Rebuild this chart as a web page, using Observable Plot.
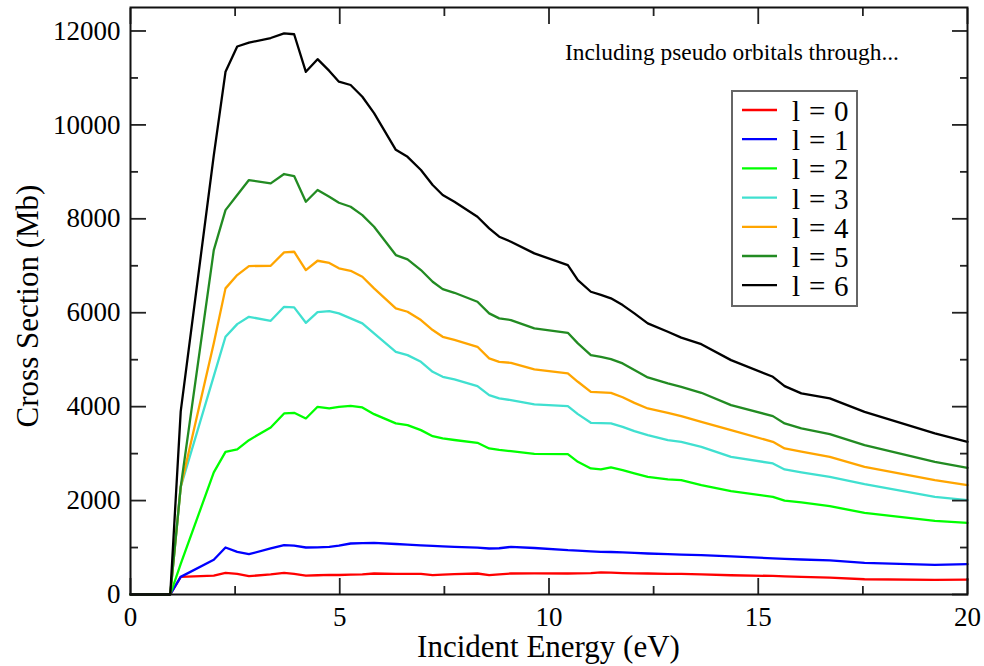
<!DOCTYPE html>
<html><head><meta charset="utf-8">
<script src="https://cdn.jsdelivr.net/npm/d3@7"></script>
<script src="https://cdn.jsdelivr.net/npm/@observablehq/plot@0.6"></script>
<style>body{margin:0;background:#fff;} #chart svg{display:block;}</style>
</head><body><div id="chart"></div>
<script>
// Incident energy (eV)
const energy = [0, 0.95, 1.2, 1.99, 2.27, 2.55, 2.83, 3.35, 3.67, 3.91, 4.19, 4.47, 4.75, 4.98, 5.26, 5.54, 5.82, 6.34, 6.62, 6.94, 7.22, 7.46, 7.74, 8.29, 8.57, 8.81, 9.09, 9.65, 10.45, 10.69, 11.0, 11.24, 11.48, 11.76, 12.04, 12.36, 12.84, 13.16, 13.64, 14.35, 15.35, 15.63, 16.03, 16.71, 17.54, 19.22, 20.0];
// Cross sections (Mb) including pseudo orbitals through l
const l0 = [0,0,375,404,460,440,390,430,461,440,404,410,420,415,425,430,447,440,440,440,411,425,435,447,411,430,447,450,447,450,455,470,465,455,450,447,440,440,430,410,395,385,375,360,325,311,316];
const l1 = [0,0,375,740,1001,908,858,980,1050,1040,1001,1005,1014,1040,1086,1095,1099,1075,1060,1045,1035,1025,1015,1000,980,985,1014,990,944,935,920,908,905,895,885,873,860,850,837,810,770,760,745,725,675,630,645];
const l2 = [0,0,650,2600,3038,3089,3287,3557,3856,3869,3749,3997,3962,3997,4018,3983,3841,3643,3607,3500,3370,3323,3290,3230,3110,3080,3053,2995,2989,2825,2684,2663,2706,2650,2580,2505,2450,2435,2328,2200,2080,2000,1960,1881,1739,1568,1525];
const l3 = [0,0,2290,4650,5488,5758,5914,5829,6127,6114,5786,6014,6035,5986,5880,5773,5560,5168,5098,4955,4742,4636,4580,4438,4246,4175,4139,4048,4011,3841,3656,3650,3643,3571,3480,3394,3287,3251,3145,2931,2791,2663,2600,2505,2350,2080,2009];
const l4 = [0,0,2290,5350,6519,6802,6994,7000,7286,7299,6909,7107,7060,6945,6894,6766,6519,6093,6021,5844,5631,5488,5420,5275,5028,4955,4934,4793,4708,4530,4316,4305,4295,4200,4080,3962,3869,3798,3677,3500,3251,3110,3040,2931,2718,2435,2328];
const l5 = [0,0,2290,7333,8186,8506,8826,8755,8954,8911,8364,8613,8470,8343,8257,8080,7831,7228,7137,6909,6660,6504,6425,6234,5986,5880,5844,5667,5573,5347,5098,5060,5013,4921,4780,4623,4495,4423,4295,4033,3798,3643,3536,3415,3181,2825,2697];
const l6 = [0,0,3900,9350,11130,11670,11750,11850,11950,11930,11130,11400,11150,10920,10850,10600,10250,9470,9320,9040,8720,8507,8364,8044,7797,7619,7512,7264,7015,6696,6447,6380,6306,6163,5986,5773,5594,5470,5330,4991,4636,4438,4282,4175,3890,3430,3251];

const seriesLabels = ["l = 0", "l = 1", "l = 2", "l = 3", "l = 4", "l = 5", "l = 6"];
const seriesColors = ["#ff0000", "#0000ff", "#00ff00", "#40e0d0", "#ffa500", "#228b22", "#000000"];
const xMajor = [0, 5, 10, 15, 20];
const xMinor = [2.5, 7.5, 12.5, 17.5];
const yMajor = [0, 2000, 4000, 6000, 8000, 10000, 12000];
const yMinor = [1000, 3000, 5000, 7000, 9000, 11000];
const xTitle = "Incident Energy (eV)";
const yTitle = "Cross Section (Mb)";
const note = "Including pseudo orbitals through...";

const seriesValues = [l0, l1, l2, l3, l4, l5, l6];
const rows = seriesValues.flatMap((vals, s) => vals.map((v, i) => ({energy: energy[i], cs: v, series: seriesLabels[s]})));

const font = "'Liberation Serif','Times New Roman',Times,serif";
const tickStyle = {strokeWidth: 1.8, stroke: "#222", label: null, tickFormat: () => ""};
const plot = Plot.plot({
  width: 984, height: 666,
  marginLeft: 130, marginRight: 17, marginTop: 7, marginBottom: 72,
  style: {fontFamily: font, background: "white", color: "black"},
  x: {domain: [0, 20], label: null},
  y: {domain: [0, 12500], label: null},
  color: {domain: seriesLabels, range: seriesColors},
  marks: [
    Plot.lineY(rows, {x: "energy", y: "cs", z: "series", stroke: "series", strokeWidth: 2.3}),
    // inward ticks on all four sides
    Plot.axisY({...tickStyle, ticks: yMajor, anchor: "left", tickSize: 16, dx: 16}),
    Plot.axisY({...tickStyle, ticks: yMinor, anchor: "left", tickSize: 8, dx: 8}),
    Plot.axisY({...tickStyle, ticks: yMajor, anchor: "right", tickSize: 16, dx: -16}),
    Plot.axisY({...tickStyle, ticks: yMinor, anchor: "right", tickSize: 8, dx: -8}),
    Plot.axisX({...tickStyle, ticks: xMajor, anchor: "bottom", tickSize: 16, dy: -16}),
    Plot.axisX({...tickStyle, ticks: xMinor, anchor: "bottom", tickSize: 8, dy: -8}),
    Plot.axisX({...tickStyle, ticks: xMajor, anchor: "top", tickSize: 16, dy: 16}),
    Plot.axisX({...tickStyle, ticks: xMinor, anchor: "top", tickSize: 8, dy: 8}),
    // tick labels
    Plot.axisY({ticks: yMajor, anchor: "left", tickSize: 0, tickPadding: 10, fontSize: 27, label: null, tickFormat: d3.format("d")}),
    Plot.axisX({ticks: xMajor, anchor: "bottom", tickSize: 0, tickPadding: 12, fontSize: 27, label: null, tickFormat: d3.format("d")}),
    Plot.frame({stroke: "#111", strokeWidth: 2})
  ]
});

const svg = d3.select(plot);
svg.append("text").attr("transform", "translate(38,306) rotate(-90)")
  .attr("text-anchor", "middle").attr("font-size", 31).attr("font-family", font).attr("fill", "black").text(yTitle);
svg.append("text").attr("x", 548.5).attr("y", 657)
  .attr("text-anchor", "middle").attr("font-size", 31).attr("font-family", font).attr("fill", "black").text(xTitle);
svg.append("text").attr("x", 565).attr("y", 60).attr("text-anchor", "start")
  .attr("font-size", 23.4).attr("font-family", font).attr("fill", "black").text(note);

const lg = svg.append("g");
lg.append("rect").attr("x", 732).attr("y", 91).attr("width", 125).attr("height", 215)
  .attr("fill", "white").attr("stroke", "#666").attr("stroke-width", 2);
seriesLabels.forEach((lab, i) => {
  const cy = 110 + i * 29.2;
  lg.append("line").attr("x1", 742).attr("x2", 777).attr("y1", cy).attr("y2", cy)
    .attr("stroke", seriesColors[i]).attr("stroke-width", 2.3);
  lg.append("text").attr("x", 792).attr("y", cy + 11).attr("text-anchor", "start").attr("font-size", 29)
    .attr("font-family", font).attr("fill", "black").attr("letter-spacing", 0.8).text(lab);
});

document.getElementById("chart").appendChild(plot);
</script>
</body></html>
